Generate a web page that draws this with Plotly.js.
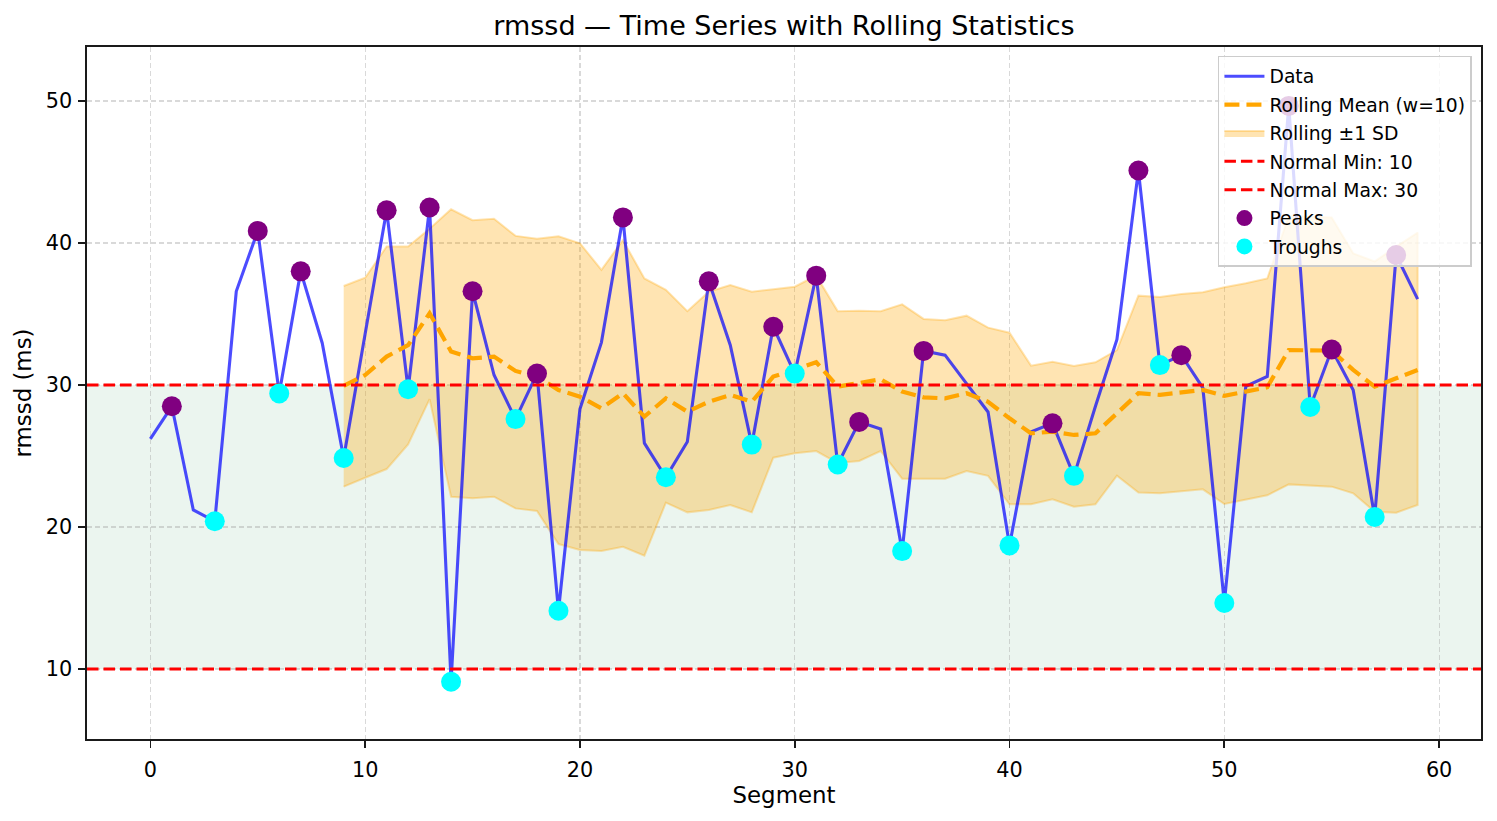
<!DOCTYPE html>
<html>
<head>
<meta charset="utf-8">
<script src="https://cdn.plot.ly/plotly-3.0.1.min.js"></script>
<style>html,body{margin:0;padding:0;background:#fff;}#chart{width:1497px;height:821px;}</style>
</head>
<body>
<div id="chart"></div>
<script>
const segments = [0,1,2,3,4,5,6,7,8,9,10,11,12,13,14,15,16,17,18,19,20,21,22,23,24,25,26,27,28,29,
  30,31,32,33,34,35,36,37,38,39,40,41,42,43,44,45,46,47,48,49,50,51,52,53,54,55,56,57,58,59];

const rmssd = [26.2, 28.5, 21.2, 20.4, 36.6, 40.85, 29.4, 38.0, 32.96, 24.86,
  33.6, 42.3, 29.7, 42.5, 9.1, 36.6, 30.7, 27.6, 30.8, 14.1,
  28.3, 33.0, 41.8, 25.9, 23.5, 26.0, 37.3, 32.8, 25.8, 34.1,
  30.8, 37.7, 24.4, 27.4, 26.9, 18.3, 32.4, 32.1, 30.1, 28.1,
  18.7, 26.7, 27.3, 23.6, 28.5, 33.2, 45.1, 31.4, 32.1, 29.8,
  14.65, 29.9, 30.6, 49.65, 28.45, 32.5, 29.65, 20.7, 39.15, 36.05];

// rolling statistics (window 10) start at segment 9
const rollStart = 9;
const rollingMean = [29.93, 30.7, 32.0, 32.8, 35.05, 32.35, 31.88, 32.0, 30.99, 30.59,
  29.65, 29.18, 28.36, 29.42, 27.77, 29.06, 28.12, 28.82, 29.3, 28.82,
  30.59, 31.06, 31.6, 29.88, 30.12, 30.4, 29.53, 29.13, 29.06, 29.42,
  28.82, 27.65, 26.6, 26.71, 26.48, 26.6, 28.0, 29.42, 29.3, 29.48,
  29.65, 29.23, 29.53, 29.84, 32.46, 32.46, 32.42, 31.06, 29.88, 30.47, 31.06];
const rollingUpper = [36.97, 37.55, 39.75, 39.75, 41.0, 42.37, 41.6, 41.7, 40.5, 40.3,
  40.47, 39.98, 38.1, 40.2, 37.5, 36.7, 35.2, 36.57, 37.04, 36.57,
  36.74, 36.92, 37.7, 35.2, 35.23, 35.2, 35.68, 34.65, 34.56, 34.88,
  34.04, 33.68, 31.36, 31.64, 31.34, 31.6, 32.46, 36.29, 36.2, 36.4,
  36.53, 36.88, 37.16, 37.5, 41.9, 41.85, 41.8, 39.27, 38.7, 39.74, 40.73];
const rollingLower = [22.84, 23.47, 24.08, 25.82, 29.0, 22.13, 22.02, 22.13, 21.31, 21.13,
  18.8, 18.38, 18.31, 18.61, 17.98, 21.71, 21.03, 21.2, 21.55, 21.03,
  24.88, 25.19, 25.35, 24.5, 24.65, 25.35, 23.4, 23.4, 23.4, 23.94,
  23.6, 21.6, 21.6, 21.95, 21.43, 21.6, 23.61, 22.42, 22.37, 22.51,
  22.65, 21.62, 21.9, 22.23, 23.0, 22.93, 22.84, 22.37, 21.08, 21.01, 21.55];

const peakIdx = [1, 5, 7, 11, 13, 15, 18, 22, 26, 29, 31, 33, 36, 42, 46, 48, 53, 55, 58];
const troughIdx = [3, 6, 9, 12, 14, 17, 19, 24, 28, 30, 32, 35, 40, 43, 47, 50, 54, 57];

const normalMin = 10;
const normalMax = 30;
const xTicks = [0, 10, 20, 30, 40, 50, 60];
const yTicks = [10, 20, 30, 40, 50];

const xRange = [-2.95, 61.95];
const yRange = [5.07, 53.8];

const rollX = segments.slice(rollStart);
const font = 'DejaVu Sans, sans-serif';

const bandTrace = {
  x: rollX.concat(rollX.slice().reverse()),
  y: rollingUpper.concat(rollingLower.slice().reverse()),
  type: 'scatter', mode: 'lines', fill: 'toself',
  fillcolor: 'rgba(255,165,0,0.3)',
  line: {color: 'rgba(255,165,0,0.3)', width: 2},
  name: 'Rolling ±1 SD', legendrank: 3, legendgroup: 'g3', hoverinfo: 'skip'
};
const dataTrace = {
  x: segments, y: rmssd, type: 'scatter', mode: 'lines',
  line: {color: 'rgba(0,0,255,0.7)', width: 3.1},
  name: 'Data', legendrank: 1, legendgroup: 'g1'
};
const meanTrace = {
  x: rollX, y: rollingMean, type: 'scatter', mode: 'lines',
  line: {color: 'orange', width: 4.2, dash: '15px,7px'},
  name: 'Rolling Mean (w=10)', legendrank: 2, legendgroup: 'g2'
};
const minTrace = {
  x: xRange, y: [normalMin, normalMin], type: 'scatter', mode: 'lines',
  line: {color: 'red', width: 3.1, dash: '11.5px,5px'},
  name: 'Normal Min: ' + normalMin, legendrank: 4, legendgroup: 'g4'
};
const maxTrace = {
  x: xRange, y: [normalMax, normalMax], type: 'scatter', mode: 'lines',
  line: {color: 'red', width: 3.1, dash: '11.5px,5px'},
  name: 'Normal Max: ' + normalMax, legendrank: 5, legendgroup: 'g5'
};
const peakTrace = {
  x: peakIdx.map(i => segments[i]), y: peakIdx.map(i => rmssd[i]),
  type: 'scatter', mode: 'markers',
  marker: {color: 'purple', size: 20},
  name: 'Peaks', legendrank: 6, legendgroup: 'g6'
};
const troughTrace = {
  x: troughIdx.map(i => segments[i]), y: troughIdx.map(i => rmssd[i]),
  type: 'scatter', mode: 'markers',
  marker: {color: 'cyan', size: 20},
  name: 'Troughs', legendrank: 7, legendgroup: 'g7'
};

const axisCommon = {
  showline: true, linecolor: '#1a1a1a', linewidth: 1.7, mirror: true,
  ticks: 'outside', ticklen: 7, tickwidth: 1.7, tickcolor: '#1a1a1a',
  showgrid: true, gridcolor: 'rgba(160,160,160,0.4)', griddash: '5px,3px', gridwidth: 1.1,
  zeroline: false,
  tickfont: {family: font, size: 20.8, color: 'black'}
};

const layout = {
  width: 1497, height: 821,
  margin: {l: 87, r: 16, t: 47, b: 82},
  paper_bgcolor: 'white', plot_bgcolor: 'white',
  title: {text: 'rmssd — Time Series with Rolling Statistics',
    font: {family: font, size: 27, color: 'black'},
    x: 0.5, xref: 'paper', xanchor: 'center', y: 1 - 26/821, yref: 'container', yanchor: 'middle'},
  xaxis: Object.assign({}, axisCommon, {
    range: xRange, tickvals: xTicks, ticktext: xTicks.map(String), ticklabelstandoff: 4,
    title: {text: 'Segment', font: {family: font, size: 22.9, color: 'black'}, standoff: 4}
  }),
  yaxis: Object.assign({}, axisCommon, {
    range: yRange, tickvals: yTicks, ticktext: yTicks.map(String), ticklabelstandoff: 2,
    title: {text: 'rmssd (ms)', font: {family: font, size: 22.9, color: 'black'}, standoff: 8}
  }),
  shapes: [{
    type: 'rect', xref: 'paper', x0: 0, x1: 1, yref: 'y', y0: normalMin, y1: normalMax,
    fillcolor: 'rgba(60,160,100,0.1)', line: {width: 0}, layer: 'below'
  }],
  legend: {
    x: 0.9935, y: 0.987, xanchor: 'right', yanchor: 'top',
    bgcolor: 'rgba(255,255,255,0.8)', bordercolor: '#cccccc', borderwidth: 1.5,
    font: {family: font, size: 18.75, color: 'black'},
    traceorder: 'grouped', tracegroupgap: 1, itemwidth: 40
  },
  showlegend: true
};

Plotly.newPlot('chart', [bandTrace, dataTrace, meanTrace, minTrace, maxTrace, peakTrace, troughTrace], layout,
  {displayModeBar: false, staticPlot: true});
</script>
</body>
</html>
